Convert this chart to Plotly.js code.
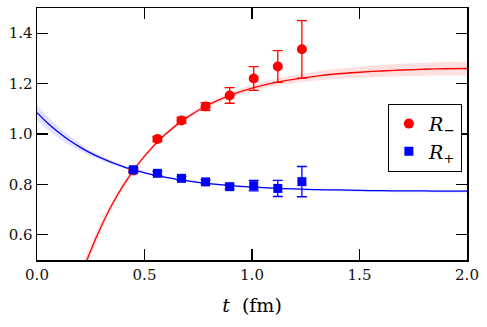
<!DOCTYPE html>
<html>
<head>
<meta charset="utf-8">
<script src="https://cdn.plot.ly/plotly-3.0.1.min.js"></script>
<style>
  html, body { margin: 0; padding: 0; background: #fff; }
  #chart { width: 487px; height: 327px; }
</style>
</head>
<body>
<div id="chart"></div>
<script>
// ── Data ──────────────────────────────────────────────────────────────────────

const tData = [0.448, 0.560, 0.672, 0.784, 0.896, 1.008, 1.120, 1.232];

const rMinus    = [0.855, 0.980, 1.054, 1.109, 1.153, 1.220, 1.268, 1.336];
const rMinusErr = [0.008, 0.010, 0.012, 0.015, 0.031, 0.047, 0.063, 0.114];

const rPlus    = [0.858, 0.844, 0.824, 0.810, 0.791, 0.795, 0.784, 0.811];
const rPlusErr = [0.008, 0.008, 0.008, 0.008, 0.010, 0.021, 0.032, 0.060];

// fit curves and their band half-widths
const tRedFit   = [0.20, 0.25, 0.30, 0.35, 0.40, 0.45, 0.50, 0.60, 0.70, 0.80, 0.90, 1.00,
                   1.10, 1.20, 1.30, 1.40, 1.50, 1.60, 1.70, 1.80, 1.90, 2.00];
const redFit    = [0.425, 0.538, 0.636, 0.721, 0.794, 0.857, 0.912, 1.001, 1.067, 1.117, 1.154, 1.182,
                   1.203, 1.218, 1.230, 1.239, 1.245, 1.250, 1.254, 1.257, 1.259, 1.260];
const redBand   = [0.030, 0.024, 0.019, 0.015, 0.012, 0.010, 0.008, 0.008, 0.008, 0.009, 0.010, 0.012,
                   0.014, 0.016, 0.018, 0.020, 0.022, 0.024, 0.025, 0.026, 0.027, 0.028];

const tBlueFit  = [0.00, 0.05, 0.10, 0.15, 0.20, 0.25, 0.30, 0.35, 0.40, 0.45, 0.50, 0.60, 0.70,
                   0.80, 0.90, 1.00, 1.10, 1.20, 1.30, 1.40, 1.50, 1.60, 1.70, 1.80, 1.90, 2.00];
const blueFit   = [1.085, 1.043, 1.007, 0.975, 0.948, 0.924, 0.904, 0.886, 0.871, 0.858, 0.846, 0.828, 0.814,
                   0.803, 0.795, 0.790, 0.785, 0.782, 0.779, 0.778, 0.776, 0.775, 0.774, 0.774, 0.773, 0.773];
const blueBand  = [0.030, 0.026, 0.022, 0.018, 0.014, 0.011, 0.009, 0.007, 0.006, 0.005, 0.005, 0.004, 0.004,
                   0.004, 0.004, 0.004, 0.004, 0.004, 0.004, 0.005, 0.005, 0.005, 0.005, 0.005, 0.005, 0.005];

const xTicks = [0.0, 0.5, 1.0, 1.5, 2.0];
const yTicks = [0.6, 0.8, 1.0, 1.2, 1.4];

// ── Styling ──────────────────────────────────────────────────────────────────

const RED  = '#ff0000';
const BLUE = '#0000ff';
const FONT = '"DejaVu Serif", "Liberation Serif", serif';

const band = (x, y, w, fill) => {
  const lo = y.map((v, i) => v - w[i]);
  const hi = y.map((v, i) => v + w[i]);
  return [
    { x, y: lo, type: 'scatter', mode: 'lines', line: { width: 0, shape: 'spline' },
      showlegend: false, hoverinfo: 'skip' },
    { x, y: hi, type: 'scatter', mode: 'lines', line: { width: 0, shape: 'spline' },
      fill: 'tonexty', fillcolor: fill, showlegend: false, hoverinfo: 'skip' },
  ];
};

const fitLine = (x, y, color) => ({
  x, y, type: 'scatter', mode: 'lines',
  line: { color, width: 1.3, shape: 'spline' }, showlegend: false, hoverinfo: 'skip',
});

const points = (y, err, color, symbol, name) => ({
  x: tData, y, type: 'scatter', mode: 'markers', name,
  marker: { color, symbol, size: symbol === 'square' ? 9 : 10 },
  error_y: { type: 'data', array: err, visible: true, color, thickness: 1.3, width: 5 },
});

const traces = [
  ...band(tRedFit, redFit, redBand, 'rgba(255,0,0,0.12)'),
  ...band(tBlueFit, blueFit, blueBand, 'rgba(0,0,255,0.12)'),
  fitLine(tRedFit, redFit, RED),
  fitLine(tBlueFit, blueFit, BLUE),
  points(rMinus, rMinusErr, RED, 'circle', '<i>R</i><sub>−</sub>'),
  points(rPlus, rPlusErr, BLUE, 'square', '<i>R</i><sub>+</sub>'),
];

const axisBase = {
  showgrid: false, zeroline: false,
  showline: true, linecolor: '#000', linewidth: 1.5, mirror: 'ticks',
  ticks: 'inside', ticklen: 11, tickwidth: 1.3, tickcolor: '#000',
  tickfont: { family: FONT, size: 15, color: '#111' },
};

const layout = {
  width: 487, height: 327,
  paper_bgcolor: '#fff', plot_bgcolor: '#fff',
  margin: { l: 37, r: 20, t: 8, b: 67 },
  font: { family: FONT, color: '#000' },
  xaxis: {
    ...axisBase, range: [0, 2.0],
    tickvals: xTicks, ticktext: xTicks.map(v => v.toFixed(1)),
    title: { text: '<i>t</i>  (fm)', font: { family: FONT, size: 19, color: '#000' }, standoff: 16 },
  },
  yaxis: {
    ...axisBase, range: [0.5, 1.5],
    tickvals: yTicks, ticktext: yTicks.map(v => v.toFixed(1)),
  },
  showlegend: true,
  legend: {
    x: 0.816, y: 0.62, xanchor: 'left', yanchor: 'top', traceorder: 'normal',
    bgcolor: '#fff', bordercolor: '#000', borderwidth: 1,
    font: { family: FONT, size: 19, color: '#000' },
    itemwidth: 30, tracegroupgap: 0,
  },
};

Plotly.newPlot('chart', traces, layout, { displayModeBar: false, staticPlot: true });
</script>
</body>
</html>
